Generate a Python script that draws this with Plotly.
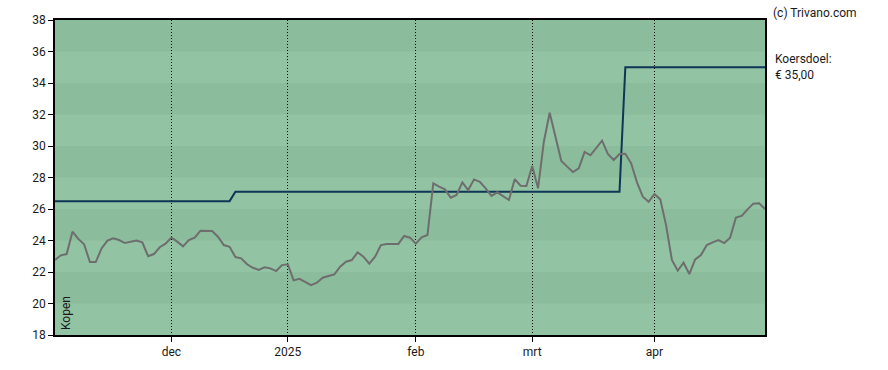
import plotly.graph_objects as go
import pandas as pd

# Trading days (weekends and exchange holidays excluded)
holidays = ["2024-12-25", "2024-12-26", "2025-01-01", "2025-04-18", "2025-04-21"]
all_days = pd.bdate_range("2024-11-04", "2025-04-30")
dates = [d.strftime("%Y-%m-%d") for d in all_days if d.strftime("%Y-%m-%d") not in holidays]

price = [
    22.76, 23.06, 23.14, 24.56, 24.10, 23.76, 22.63, 22.63, 23.50, 23.99,
    24.14, 24.03, 23.84, 23.90, 24.00, 23.88, 23.00, 23.14, 23.57, 23.80,
    24.18, 23.93, 23.63, 24.03, 24.18, 24.62, 24.60, 24.60, 24.24, 23.71,
    23.60, 22.95, 22.87, 22.49, 22.27, 22.13, 22.30, 22.23, 22.06, 22.44,
    22.49, 21.47, 21.57, 21.37, 21.17, 21.32, 21.64, 21.75, 21.85, 22.34,
    22.65, 22.76, 23.25, 22.97, 22.53, 22.97, 23.71, 23.78, 23.76, 23.78,
    24.29, 24.18, 23.80, 24.20, 24.35, 27.63, 27.42, 27.25, 26.72, 26.89,
    27.69, 27.20, 27.88, 27.73, 27.31, 26.83, 27.06, 26.84, 26.57, 27.90,
    27.48, 27.46, 28.73, 27.31, 30.27, 32.11, 30.59, 29.05, 28.69, 28.35,
    28.58, 29.62, 29.41, 29.85, 30.34, 29.49, 29.11, 29.49, 29.51, 28.90,
    27.69, 26.78, 26.46, 26.95, 26.61, 24.98, 22.76, 22.08, 22.59, 21.87,
    22.80, 23.08, 23.71, 23.88, 24.03, 23.84, 24.18, 25.45, 25.56, 25.98,
    26.34, 26.36, 26.00,
]

# Koersdoel (price target) per trading day
target = [26.5] * 31 + [27.1] * 67 + [35.0] * 25

tick_dates = ["2024-12-02", "2025-01-02", "2025-02-03", "2025-03-03", "2025-04-01"]
tick_labels = ["dec", "2025", "feb", "mrt", "apr"]
y_ticks = [18, 20, 22, 24, 26, 28, 30, 32, 34, 36, 38]

n = min(len(dates), len(price), len(target))
dates, price, target = dates[:n], price[:n], target[:n]

fig = go.Figure()
fig.add_trace(go.Scatter(x=dates, y=target, mode="lines",
                         line=dict(color="#0E3656", width=2), hoverinfo="skip"))
fig.add_trace(go.Scatter(x=dates, y=price, mode="lines",
                         line=dict(color="#6E6E6E", width=2)))

dark = "#8BBC9C"
light = "#92C3A3"
shapes = []
for i in range(len(y_ticks) - 1):
    shapes.append(dict(type="rect", xref="paper", yref="y", x0=0, x1=1,
                       y0=y_ticks[i], y1=y_ticks[i + 1], line=dict(width=0),
                       fillcolor=light if i % 2 == 0 else dark, layer="below"))

font = dict(family="Roboto, Arial, sans-serif", size=12, color="#1A1A1A")

fig.update_layout(
    width=888, height=370,
    margin=dict(l=55, r=123, t=20, b=35),
    paper_bgcolor="white", plot_bgcolor=light,
    showlegend=False, shapes=shapes, font=font,
    xaxis=dict(type="category", range=[0, n - 1], tickmode="array",
               tickvals=tick_dates, ticktext=tick_labels,
               showgrid=True, gridcolor="black", griddash="1px,2px", gridwidth=1,
               ticks="outside", ticklen=5, tickcolor="black",
               showline=True, linecolor="black", linewidth=1.5, mirror=True,
               tickfont=font, zeroline=False),
    yaxis=dict(range=[18, 38], tickmode="array", tickvals=y_ticks,
               showgrid=False, ticks="outside", ticklen=5, tickcolor="black",
               showline=True, linecolor="black", linewidth=1.5, mirror=True,
               tickfont=font, zeroline=False),
    annotations=[
        dict(text="(c) Trivano.com", xref="paper", yref="paper", x=1, y=1,
             xanchor="left", yanchor="bottom", xshift=6, yshift=-2,
             showarrow=False, font=font),
        dict(text="Koersdoel:<br>€ 35,00", xref="paper", yref="y", x=1, y=35,
             xanchor="left", yanchor="middle", xshift=8, yshift=0, align="left",
             showarrow=False, font=font),
        dict(text="Kopen", xref="paper", yref="paper", x=0, y=0,
             xanchor="left", yanchor="bottom", xshift=2, yshift=3,
             textangle=-90, showarrow=False, font=font),
    ],
)

fig.write_html("out.html", config={"displayModeBar": False},
               post_script="document.body.style.margin='0';")
